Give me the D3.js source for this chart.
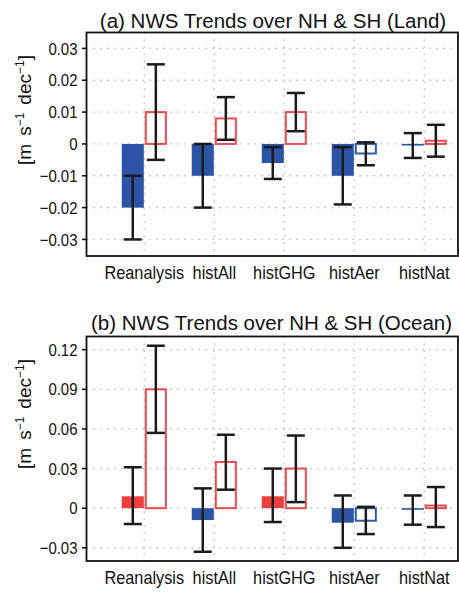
<!DOCTYPE html>
<html>
<head>
<meta charset="utf-8">
<script src="https://cdn.jsdelivr.net/npm/d3@7"></script>
<style>
  body { margin: 0; background: #fff; }
  text { font-family: 'Liberation Sans', Arial, sans-serif; fill: #111; }
</style>
</head>
<body>
<div id='chart'></div>
<script>
  categories = ['Reanalysis', 'histAll', 'histGHG', 'histAer', 'histNat']

  // (a) land: left bars are filled, right bars are open
  landFilled   = [-0.020, -0.010, -0.006, -0.010, -0.0004]
  landFilledLo = [-0.030, -0.020, -0.011, -0.019, -0.0044]
  landFilledHi = [-0.010,  0.000, -0.001, -0.001,  0.0034]
  landOpen     = [ 0.010,  0.008,  0.010, -0.003,  0.001]
  landOpenLo   = [-0.005,  0.0013, 0.004, -0.0067, -0.004]
  landOpenHi   = [ 0.025,  0.0147, 0.016,  0.0005,  0.006]
  landTicks    = [-0.03, -0.02, -0.01, 0, 0.01, 0.02, 0.03]

  // (b) ocean
  oceanFilled   = [ 0.009, -0.009,  0.009, -0.011, -0.001]
  oceanFilledLo = [-0.012, -0.033, -0.0105, -0.030, -0.0125]
  oceanFilledHi = [ 0.031,  0.015,  0.030,  0.0096,  0.0096]
  oceanOpen     = [ 0.090,  0.035,  0.030, -0.0095,  0.002]
  oceanOpenLo   = [ 0.057,  0.014,  0.0046, -0.0196, -0.0143]
  oceanOpenHi   = [ 0.123,  0.0556, 0.055,  0.001,  0.016]
  oceanTicks    = [-0.03, 0, 0.03, 0.06, 0.09, 0.12]

  var blue = '#2b54a6', red = '#ee3e3e'
  var blueLine = '#2d5db2', redLine = '#f04a50'

  var svg = d3.select('#chart')
              .append('svg')
              .attr('width', 459)
              .attr('height', 593)

  var left = 86.5, right = 458

  var x = d3.scaleLinear()
            .domain([0, 4])
            .range([144.3, 424.3])

  var bw = (x(1) - x(0)) * 0.315

  drawPanel({
    title: '(a) NWS Trends over NH & SH (Land)', titleY: 28, titleX: 273,
    top: 32.5, bottom: 256, domain: [-0.0352, 0.035], ticks: landTicks, labelY: 110,
    filled: landFilled, filledLo: landFilledLo, filledHi: landFilledHi,
    open: landOpen, openLo: landOpenLo, openHi: landOpenHi
  })

  drawPanel({
    title: '(b) NWS Trends over NH & SH (Ocean)', titleY: 330, titleX: 271.5,
    top: 336.5, bottom: 561, domain: [-0.04, 0.13], ticks: oceanTicks, labelY: 414,
    filled: oceanFilled, filledLo: oceanFilledLo, filledHi: oceanFilledHi,
    open: oceanOpen, openLo: oceanOpenLo, openHi: oceanOpenHi
  })

  // squeeze text a little to look like the narrow plotting font
  function condense(sel, k) {
    sel.each(function() {
      this.setAttribute('textLength', this.getComputedTextLength() * k)
      this.setAttribute('lengthAdjust', 'spacingAndGlyphs')
    })
  }

  function drawPanel(p) {
    var y = d3.scaleLinear()
              .domain(p.domain)
              .range([p.bottom, p.top])

    var g = svg.append('g')

    // dotted grid
    g.selectAll('line.hgrid')
     .data(p.ticks)
     .enter()
     .append('line')
     .attr('x1', left).attr('x2', right)
     .attr('y1', function(d) { return y(d) })
     .attr('y2', function(d) { return y(d) })
     .attr('stroke', '#aaa')
     .attr('stroke-width', 1.3)
     .attr('stroke-dasharray', '1.3,5.7')

    g.selectAll('line.vgrid')
     .data(categories)
     .enter()
     .append('line')
     .attr('x1', function(d, i) { return x(i) })
     .attr('x2', function(d, i) { return x(i) })
     .attr('y1', p.top).attr('y2', p.bottom)
     .attr('stroke', '#aaa')
     .attr('stroke-width', 1.3)
     .attr('stroke-dasharray', '1.3,5.7')

    // filled bars
    g.selectAll('rect.filled')
     .data(p.filled)
     .enter()
     .append('rect')
     .attr('x', function(d, i) { return x(i) - bw - 0.5 })
     .attr('width', bw)
     .attr('y', function(d) { return y(Math.max(0, d)) })
     .attr('height', function(d) { return Math.max(1.6, Math.abs(y(d) - y(0))) })
     .attr('fill', function(d) { return d >= 0 ? red : blue })

    // open bars
    g.selectAll('rect.open')
     .data(p.open)
     .enter()
     .append('rect')
     .attr('x', function(d, i) { return x(i) + 1.5 })
     .attr('width', bw - 2)
     .attr('y', function(d) { return y(Math.max(0, d)) })
     .attr('height', function(d) { return Math.abs(y(d) - y(0)) })
     .attr('fill', 'none')
     .attr('stroke', function(d) { return d >= 0 ? redLine : blueLine })
     .attr('stroke-width', 2)

    // error bars
    errorBars(g, y, p.filledLo, p.filledHi, -bw / 2 - 0.5)
    errorBars(g, y, p.openLo, p.openHi, bw / 2 + 0.5)

    // frame
    g.append('rect')
     .attr('x', left).attr('y', p.top)
     .attr('width', right - left).attr('height', p.bottom - p.top)
     .attr('fill', 'none')
     .attr('stroke', '#111')
     .attr('stroke-width', 1.8)

    // y ticks
    g.selectAll('line.ytick')
     .data(p.ticks)
     .enter()
     .append('line')
     .attr('x1', left - 4.5).attr('x2', left)
     .attr('y1', function(d) { return y(d) })
     .attr('y2', function(d) { return y(d) })
     .attr('stroke', '#111')
     .attr('stroke-width', 1.6)

    g.selectAll('text.ylab')
     .data(p.ticks)
     .enter()
     .append('text')
     .attr('x', left - 9)
     .attr('y', function(d) { return y(d) })
     .attr('dy', '0.36em')
     .attr('text-anchor', 'end')
     .attr('font-size', 17)
     .text(function(d) { return d === 0 ? '0' : d3.format('.2f')(d) })
     .call(condense, 0.88)

    // category labels
    g.selectAll('text.cat')
     .data(categories)
     .enter()
     .append('text')
     .attr('x', function(d, i) { return x(i) })
     .attr('y', p.bottom + 23)
     .attr('text-anchor', 'middle')
     .attr('font-size', 18.5)
     .text(function(d) { return d })
     .call(condense, 0.88)

    // title
    g.append('text')
     .attr('x', p.titleX)
     .attr('y', p.titleY)
     .attr('text-anchor', 'middle')
     .attr('font-size', 20.5)
     .text(p.title)

    // unit label
    var lab = g.append('text')
               .attr('transform', 'translate(31,' + p.labelY + ') rotate(-90)')
               .attr('text-anchor', 'middle')
               .attr('font-size', 19)
    lab.append('tspan').text('[m')
    lab.append('tspan').attr('dx', 8).text('s')
    lab.append('tspan').attr('dy', -7).attr('font-size', 12).text('−1')
    lab.append('tspan').attr('dy', 7).attr('dx', 8).text('dec')
    lab.append('tspan').attr('dy', -7).attr('font-size', 12).text('−1')
    lab.append('tspan').attr('dy', 7).text(']')
  }

  function errorBars(g, y, lo, hi, dx) {
    var eb = g.selectAll(null)
              .data(lo)
              .enter()
              .append('g')
              .attr('stroke', '#1b1b1b')
              .attr('stroke-width', 2.5)

    eb.append('line')
      .attr('x1', function(d, i) { return x(i) + dx })
      .attr('x2', function(d, i) { return x(i) + dx })
      .attr('y1', function(d) { return y(d) })
      .attr('y2', function(d, i) { return y(hi[i]) })

    eb.append('line')
      .attr('x1', function(d, i) { return x(i) + dx - 9 })
      .attr('x2', function(d, i) { return x(i) + dx + 9 })
      .attr('y1', function(d) { return y(d) })
      .attr('y2', function(d) { return y(d) })

    eb.append('line')
      .attr('x1', function(d, i) { return x(i) + dx - 9 })
      .attr('x2', function(d, i) { return x(i) + dx + 9 })
      .attr('y1', function(d, i) { return y(hi[i]) })
      .attr('y2', function(d, i) { return y(hi[i]) })
  }
</script>
</body>
</html>
